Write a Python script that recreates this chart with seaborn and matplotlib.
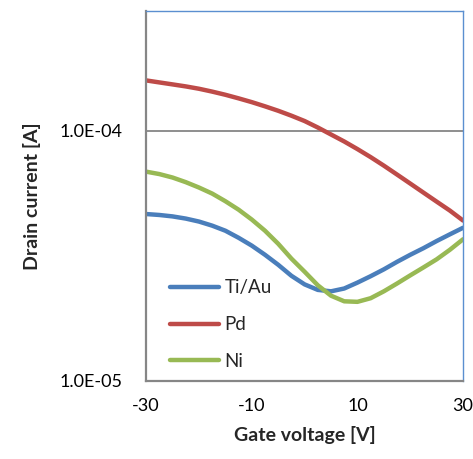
import numpy as np
import pandas as pd
import matplotlib
matplotlib.use('Agg')
import matplotlib.pyplot as plt
import matplotlib.ticker as mticker
import seaborn as sns

# gate voltage sweep [V]
gate_voltage = [-30, -27.5, -25, -22.5, -20, -17.5, -15, -12.5, -10, -7.5, -5, -2.5,
                0, 2.5, 5, 7.5, 10, 12.5, 15, 17.5, 20, 22.5, 25, 27.5, 30]

# drain current [A]
i_tiau = [4.64e-5, 4.60e-5, 4.54e-5, 4.45e-5, 4.33e-5, 4.17e-5, 3.98e-5, 3.73e-5, 3.47e-5,
          3.19e-5, 2.91e-5, 2.63e-5, 2.43e-5, 2.31e-5, 2.28e-5, 2.34e-5, 2.47e-5, 2.62e-5,
          2.79e-5, 2.99e-5, 3.19e-5, 3.39e-5, 3.62e-5, 3.85e-5, 4.09e-5]
i_pd = [1.585e-4, 1.556e-4, 1.528e-4, 1.500e-4, 1.468e-4, 1.430e-4, 1.389e-4, 1.344e-4,
        1.298e-4, 1.249e-4, 1.199e-4, 1.146e-4, 1.091e-4, 1.028e-4, 9.64e-5, 9.04e-5,
        8.43e-5, 7.83e-5, 7.24e-5, 6.67e-5, 6.14e-5, 5.65e-5, 5.20e-5, 4.79e-5, 4.37e-5]
i_ni = [6.85e-5, 6.70e-5, 6.49e-5, 6.22e-5, 5.92e-5, 5.60e-5, 5.22e-5, 4.83e-5, 4.41e-5,
        3.98e-5, 3.53e-5, 3.08e-5, 2.73e-5, 2.41e-5, 2.19e-5, 2.08e-5, 2.07e-5, 2.14e-5,
        2.28e-5, 2.45e-5, 2.64e-5, 2.84e-5, 3.06e-5, 3.34e-5, 3.68e-5]

contacts = ['Ti/Au', 'Pd', 'Ni']
colors = ['#4A7EBB', '#BE4B48', '#98B954']

sns.set_style('white')
plt.rcParams['font.family'] = ['Lato', 'DejaVu Sans']
plt.rcParams['font.size'] = 12
plt.rcParams['axes.unicode_minus'] = False

df = pd.concat([
    pd.DataFrame({'Vg': gate_voltage, 'Id': i_tiau, 'contact': 'Ti/Au'}),
    pd.DataFrame({'Vg': gate_voltage, 'Id': i_pd, 'contact': 'Pd'}),
    pd.DataFrame({'Vg': gate_voltage, 'Id': i_ni, 'contact': 'Ni'}),
])

fig = plt.figure(figsize=(4.73, 4.59), dpi=100)
ax = fig.add_axes([0.309, 0.170, 0.670, 0.806])

sns.lineplot(data=df, x='Vg', y='Id', hue='contact', hue_order=contacts,
             palette=colors, linewidth=3.2, ax=ax)
for line in ax.get_lines():
    line.set_solid_joinstyle('round')

ax.set_yscale('log')
ax.set_xlim(-30, 30)
ax.set_ylim(1e-5, 3e-4)

gray = '#868686'
ax.axhline(1e-4, color=gray, linewidth=1.3, zorder=0)

ax.set_xticks([-30, -10, 10, 30])
ax.set_xticks([-20, 0, 20], minor=True)
ax.yaxis.set_major_locator(mticker.FixedLocator([1e-5, 1e-4]))
ax.yaxis.set_minor_locator(mticker.LogLocator(base=10, subs=np.arange(2, 10)))
ax.yaxis.set_major_formatter(mticker.FuncFormatter(lambda v, p: f'{v:.1E}'))
ax.yaxis.set_minor_formatter(mticker.NullFormatter())

ax.tick_params(which='both', direction='in', length=5, width=1.3, color=gray,
               labelsize=13, labelcolor='black')
ax.tick_params(axis='x', pad=12)
ax.tick_params(axis='y', pad=17)

for side in ['left', 'bottom']:
    ax.spines[side].set_color(gray)
    ax.spines[side].set_linewidth(1.6)
for side in ['top', 'right']:
    ax.spines[side].set_color('#5B8FD0')
    ax.spines[side].set_linewidth(1.0)

ax.set_xlabel('Gate voltage [V]', fontsize=14, fontweight='bold', labelpad=9)
ax.set_ylabel('Drain current [A]', fontsize=14, fontweight='bold', labelpad=13)

leg = ax.legend(loc='lower left', bbox_to_anchor=(0.075, 0.03), frameon=False,
                fontsize=13.5, handlelength=2.6, handletextpad=0.3,
                labelspacing=1.05, borderpad=0, borderaxespad=0)
for line in leg.get_lines():
    line.set_linewidth(3.2)

plt.savefig('out.png', dpi=100)
